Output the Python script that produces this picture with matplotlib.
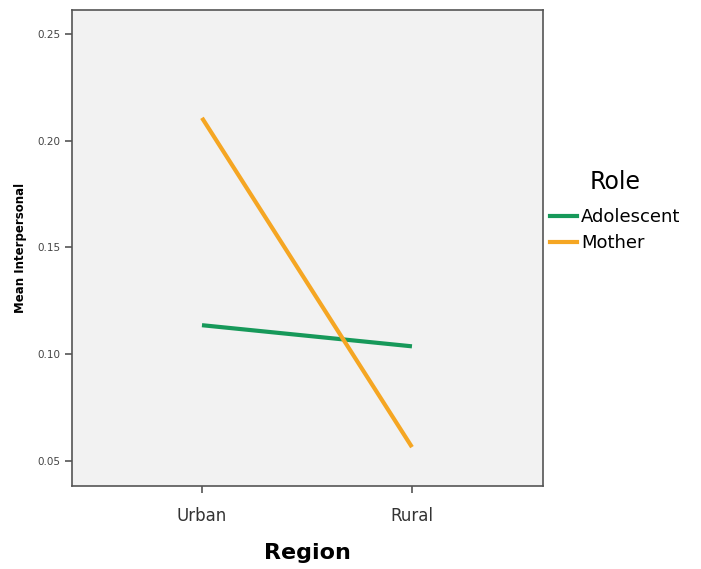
import matplotlib.pyplot as plt
from matplotlib.lines import Line2D

regions = ["Urban", "Rural"]
adolescent = [0.1136, 0.1037]
mother = [0.2107, 0.0565]
y_ticks = [0.05, 0.10, 0.15, 0.20, 0.25]

fig = plt.figure(figsize=(7.01, 5.69), dpi=100)
ax = fig.add_axes([0.1027, 0.1459, 0.6719, 0.8365])
ax.set_facecolor("#f2f2f2")

x = [1, 2]
ax.plot(x, adolescent, color="#17995a", lw=3, solid_capstyle="butt", label="Adolescent")
ax.plot(x, mother, color="#f5a623", lw=3, solid_capstyle="butt", label="Mother")

ax.set_xlim(0.381, 2.624)
ax.set_ylim(0.0383, 0.2612)
ax.set_xticks(x)
ax.set_xticklabels(regions, fontsize=12, color="#333333")
ax.set_yticks(y_ticks)
ax.set_yticklabels([f"{v:.2f}" for v in y_ticks], fontsize=7.5, color="#444444")
ax.tick_params(axis="both", length=5, width=1.2, color="#555555")
ax.tick_params(axis="x", pad=10)

for s in ax.spines.values():
    s.set_color("#555555")
    s.set_linewidth(1.2)

ax.set_ylabel("Mean Interpersonal", fontsize=8.5, fontweight="bold", labelpad=7)
ax.set_xlabel("Region", fontsize=16, fontweight="bold", labelpad=13)

handles = [Line2D([0], [0], color="#17995a", lw=3),
           Line2D([0], [0], color="#f5a623", lw=3)]
leg = fig.legend(handles, ["Adolescent", "Mother"], title="Role",
                 loc="upper left", bbox_to_anchor=(0.785, 0.701),
                 frameon=False, fontsize=13, title_fontsize=17,
                 handlelength=1.5, handletextpad=0.2, labelspacing=0.45,
                 borderaxespad=0, borderpad=0.0)
leg._legend_box.align = "center"
leg._legend_box.sep = 10

fig.savefig("out.png", dpi=100)
